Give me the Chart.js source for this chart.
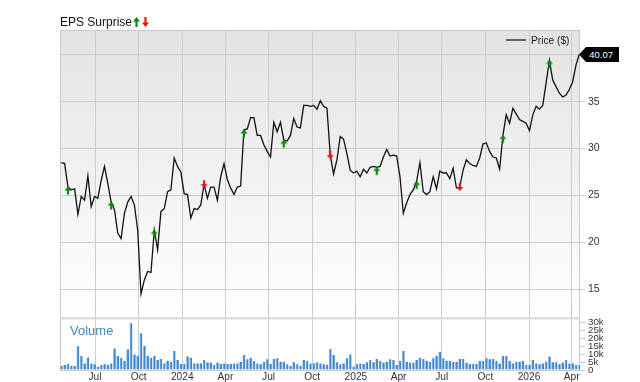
<!DOCTYPE html>
<html>
<head>
<meta charset="utf-8">
<script src="https://cdn.jsdelivr.net/npm/chart.js@4.4.1/dist/chart.umd.min.js"></script>
<style>
  html, body { margin: 0; padding: 0; background: #fff; }
  #wrap { position: relative; width: 640px; height: 382px; font-family: "Liberation Sans", Arial, sans-serif; }
  #chart { position: absolute; left: 0; top: 0; }
  .eps { position: absolute; left: 60px; top: 15px; font-size: 12px; color: #111; white-space: nowrap; }
  .eps svg { vertical-align: -1px; margin-left: 1px; }
  .legend { position: absolute; left: 506px; top: 35px; font-size: 10.2px; color: #222; white-space: nowrap; }
  .legend i { display: inline-block; width: 20px; height: 2px; background: #666; vertical-align: 3px; margin-right: 5px; }
  .vol { position: absolute; left: 70px; top: 323px; font-size: 13px; color: #3b87c9; }
  .tag { position: absolute; left: 579px; top: 47px; width: 40px; height: 15px; background: #000; color: #fff;
         font-size: 9.5px; line-height: 15px; text-align: right; box-sizing: border-box;
         clip-path: polygon(0 50%, 7px 0, 100% 0, 100% 100%, 7px 100%); }
  .tag span { padding-right: 6px; }
</style>
</head>
<body>
<div id="wrap">
  <canvas id="chart" width="640" height="382"></canvas>
  <div class="eps">EPS Surprise<svg width="7" height="10" viewBox="0 0 7 10"><path d="M3.5 0 L7 4.5 L4.6 4.5 L4.6 10 L2.4 10 L2.4 4.5 L0 4.5 Z" fill="#0a8a0a"/></svg><svg width="9" height="10" viewBox="-1 0 9 10"><path d="M3.5 10 L7 5.5 L4.6 5.5 L4.6 0 L2.4 0 L2.4 5.5 L0 5.5 Z" fill="#ee1111"/></svg></div>
  <div class="legend"><i></i>Price ($)</div>
  <div class="vol">Volume</div>
  <div class="tag"><span>40.07</span></div>
</div>
<script>
// weekly closes, first week = 2023-04-21
var startDate = '2023-04-21';

var prices = [
  28.5, 28.4, 25.9, 25.6, 25.7, 23.0, 24.9, 24.5, 27.1, 23.8,
  24.9, 24.7, 26.6, 28.1, 26.3, 24.3, 23.5, 21.0, 20.4, 23.1,
  24.3, 24.9, 24.0, 21.3, 14.5, 16.0, 16.9, 16.8, 21.3, 19.2,
  23.3, 23.6, 25.4, 25.6, 29.0, 28.1, 27.5, 25.2, 25.1, 22.6,
  23.6, 23.5, 24.0, 26.2, 24.7, 25.9, 25.9, 24.5, 27.0, 28.4,
  26.7, 25.8, 25.1, 25.9, 26.0, 32.0, 32.1, 33.3, 33.3, 31.4,
  31.4, 30.4, 29.7, 29.1, 32.8, 31.8, 32.8, 30.9, 30.8, 31.4,
  33.2, 32.3, 32.2, 34.6, 34.6, 34.5, 34.6, 34.2, 35.1, 34.5,
  34.3, 29.3, 27.3, 28.8, 31.3, 31.0, 29.5, 27.7, 27.4, 27.6,
  27.0, 27.8, 27.4, 28.0, 28.1, 28.0, 28.1, 29.1, 29.9, 29.2,
  29.3, 29.2, 27.0, 23.1, 24.2, 25.1, 25.6, 26.5, 28.5, 25.4,
  25.1, 25.4, 27.0, 25.7, 27.6, 27.4, 27.4, 26.8, 27.9, 25.8,
  25.9, 27.7, 28.8, 28.4, 28.2, 28.1, 29.0, 30.5, 30.6, 29.7,
  29.1, 29.0, 27.8, 31.4, 33.6, 32.7, 34.3, 33.7, 33.1, 32.9,
  32.7, 31.9, 33.6, 34.5, 34.2, 34.6, 37.0, 39.4, 37.3, 36.6,
  35.9, 35.5, 35.7, 36.3, 37.1, 38.9, 40.07
];

// volume in thousands
var volumes = [
  2.5, 3.2, 3.8, 2.5, 2.5, 15, 9, 4.2, 8, 4.2,
  3.6, 2.1, 3.2, 3.6, 3.2, 4.2, 13.7, 8.9, 7.8, 5.7,
  13.1, 29.6, 9.9, 9.1, 23.3, 15.2, 9.1, 7.8, 9.1, 6.3,
  7, 4.2, 5.9, 5.3, 12, 6.3, 3.8, 3.8, 8.5, 7.8,
  4.2, 4.2, 4.2, 6.3, 4.9, 4.7, 3.2, 4.7, 3.8, 4.2,
  3.8, 3.8, 4.2, 4.2, 5.3, 9.5, 6.8, 7.8, 5.7, 4.2,
  3.6, 5.3, 6.8, 3.8, 7, 7.4, 5.3, 5.3, 3.6, 2.5,
  4.9, 3.6, 2.7, 6.3, 5.9, 4.2, 4.2, 4.9, 4.2, 3.6,
  3.2, 13.3, 9.5, 4.9, 3.6, 4.2, 7.4, 9.9, 2.1, 3.6,
  4.2, 3.8, 4.9, 6.3, 4.9, 7, 5.7, 4.7, 5.3, 6.8,
  6.3, 3.2, 5.7, 12, 5.3, 4.7, 4.7, 6.3, 7.8, 7,
  5.9, 5.3, 7.4, 8.9, 11.6, 7.4, 5.9, 5.9, 5.3, 5.3,
  7, 7, 4.7, 3.8, 3.8, 3.8, 5.7, 5.7, 7.4, 6.8,
  7, 5.7, 4.2, 8.9, 8.9, 5.7, 4.2, 5.3, 5.3, 5.7,
  3.2, 3.2, 6.3, 4.2, 3.6, 4.2, 5.3, 8.5, 4.9, 4.9,
  3.6, 4.7, 6.3, 4.2, 4.2, 3.2, 3.2
];

// weeks with an earnings report (index into prices)
var epsBeatWeeks = [2, 15, 28, 55, 67, 95, 107, 133, 147];
var epsMissWeeks = [43, 81, 120];

var tickDates = ['2023-07-01', '2023-10-01', '2024-01-01', '2024-04-01', '2024-07-01', '2024-10-01',
                 '2025-01-01', '2025-04-01', '2025-07-01', '2025-10-01', '2026-01-01', '2026-04-01'];
var tickLabels = ['Jul', 'Oct', '2024', 'Apr', 'Jul', 'Oct', '2025', 'Apr', 'Jul', 'Oct', '2026', 'Apr'];
var priceTicks = [15, 20, 25, 30, 35, 40];
var volumeTicks = [0, 5, 10, 15, 20, 25, 30];

var FONT = '"Liberation Sans", Arial, sans-serif';

function dayOf(s) {
  return (Date.parse(s) - Date.parse(startDate)) / 86400000;
}

// small arrow images for the earnings markers
function makeArrow(color, up) {
  var c = document.createElement('canvas');
  c.width = 8; c.height = 18;
  var g = c.getContext('2d');
  g.fillStyle = color;
  g.beginPath();
  if (up) {
    // tip sits at the centre of the image, body hangs below
    g.moveTo(4, 8.5); g.lineTo(7.5, 12.5); g.lineTo(5.1, 12.5); g.lineTo(5.1, 16.5);
    g.lineTo(2.9, 16.5); g.lineTo(2.9, 12.5); g.lineTo(0.5, 12.5);
  } else {
    g.moveTo(4, 13); g.lineTo(7.5, 9); g.lineTo(5.1, 9); g.lineTo(5.1, 5);
    g.lineTo(2.9, 5); g.lineTo(2.9, 9); g.lineTo(0.5, 9);
  }
  g.closePath();
  g.fill();
  return c;
}

var pricePoints = prices.map(function (p, i) { return { x: i * 7, y: p }; });
var volumePoints = volumes.map(function (v, i) { return { x: i * 7, y: v }; });
var beatPoints = epsBeatWeeks.map(function (w) { return { x: w * 7, y: prices[w] }; });
var missPoints = epsMissWeeks.map(function (w) { return { x: w * 7, y: prices[w] }; });

// gradient background, panel separator and frame
var panelPlugin = {
  id: 'panels',
  afterLayout: function (chart) {
    // volume axis shares the right-hand strip with the price axis
    var s = chart.scales.yVol;
    s.right = s.left + 60;
    s.width = 60;
  },
  beforeDraw: function (chart) {
    var a = chart.chartArea, ctx = chart.ctx;
    var split = chart.scales.yPrice.getPixelForValue(11.95);
    var grd = ctx.createLinearGradient(0, a.top, 0, split);
    grd.addColorStop(0, '#e3e3e3');
    grd.addColorStop(1, '#ffffff');
    ctx.save();
    ctx.fillStyle = grd;
    ctx.fillRect(a.left, a.top, a.right - a.left, split - a.top);
    ctx.restore();
  },
  beforeDatasetsDraw: function (chart) {
    var a = chart.chartArea, ctx = chart.ctx;
    var split = chart.scales.yPrice.getPixelForValue(11.95);
    ctx.save();
    ctx.fillStyle = '#dedede';
    ctx.fillRect(a.left, Math.round(split) - 1, a.right - a.left, 2.5);
    ctx.strokeStyle = '#cacaca';
    ctx.lineWidth = 1;
    ctx.strokeRect(a.left + 0.5, a.top + 0.5, a.right - a.left - 1, a.bottom - a.top);
    ctx.restore();
  }
};

var ctx = document.getElementById('chart').getContext('2d');
var chart = new Chart(ctx, {
  type: 'bar',
  data: {
    datasets: [
      {
        type: 'scatter', data: beatPoints, yAxisID: 'yPrice', order: 0,
        pointStyle: makeArrow('#0a8a0a', true), pointRadius: 4
      },
      {
        type: 'scatter', data: missPoints, yAxisID: 'yPrice', order: 0,
        pointStyle: makeArrow('#ee1111', false), pointRadius: 4
      },
      {
        type: 'line', data: pricePoints, yAxisID: 'yPrice', order: 1,
        borderColor: '#111', borderWidth: 1.3, pointRadius: 0, tension: 0
      },
      {
        type: 'bar', data: volumePoints, yAxisID: 'yVol', order: 2,
        backgroundColor: '#3f86cc', borderColor: '#a3c7ec',
        borderWidth: { left: 1, right: 0, top: 0, bottom: 0 }, borderSkipped: false,
        barThickness: 2.5
      }
    ]
  },
  options: {
    responsive: false,
    maintainAspectRatio: false,
    animation: false,
    layout: { padding: { left: 60, top: 30, right: 0, bottom: 0 } },
    plugins: { legend: { display: false }, tooltip: { enabled: false } },
    scales: {
      x: {
        type: 'linear',
        position: 'bottom',
        offset: false,
        min: -2.8,
        max: 1093.5,
        grid: { color: '#cccccc', drawTicks: false, offset: false },
        border: { display: false },
        afterBuildTicks: function (axis) {
          axis.ticks = tickDates.map(function (d) { return { value: dayOf(d) }; });
        },
        afterFit: function (s) { s.height = 12; },
        ticks: {
          autoSkip: false, maxRotation: 0, padding: 1, color: '#333',
          font: { family: FONT, size: 10.2 },
          callback: function (v, i) { return tickLabels[i]; }
        }
      },
      yVol: {
        position: 'right',
        weight: 0,
        min: 0,
        max: 215.6,
        grid: { drawOnChartArea: false, color: '#cccccc', tickLength: 5 },
        border: { display: false },
        afterBuildTicks: function (axis) {
          axis.ticks = volumeTicks.map(function (v) { return { value: v }; });
        },
        afterFit: function (s) { s.width = 0; },
        ticks: {
          padding: 3, color: '#333', font: { family: FONT, size: 9.7 },
          callback: function (v) { return v === 0 ? '0' : v + 'k'; }
        }
      },
      yPrice: {
        position: 'right',
        weight: 1,
        min: 6.4,
        max: 42.64,
        grid: { color: '#cccccc', tickLength: 5 },
        border: { display: false },
        afterBuildTicks: function (axis) {
          axis.ticks = priceTicks.map(function (v) { return { value: v }; });
        },
        afterFit: function (s) { s.width = 60; },
        ticks: { padding: 3, color: '#333', font: { family: FONT, size: 10.5 } }
      }
    }
  },
  plugins: [panelPlugin]
});
</script>
</body>
</html>
